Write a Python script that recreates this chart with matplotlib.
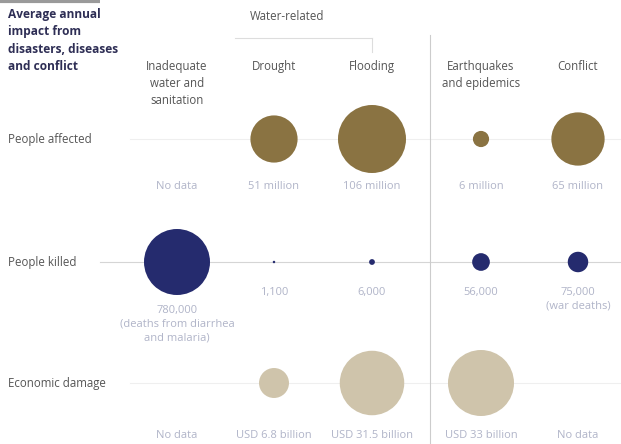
import matplotlib
matplotlib.use('Agg')
import matplotlib.pyplot as plt
from matplotlib.patches import Circle
import numpy as np

plt.rcParams['font.family'] = ['Open Sans', 'DejaVu Sans']

# 数据
columns = ['Inadequate\nwater and\nsanitation', 'Drought', 'Flooding',
           'Earthquakes\nand epidemics', 'Conflict']
rows = ['People affected', 'People killed', 'Economic damage']

affected = [np.nan, 51, 106, 6, 65]  # million
affected_labels = ['No data', '51 million', '106 million', '6 million', '65 million']

killed = [780000, 1100, 6000, 56000, 75000]
killed_labels = ['780,000\n(deaths from diarrhea\nand malaria)', '1,100', '6,000',
                 '56,000', '75,000\n(war deaths)']

damage = [np.nan, 6.8, 31.5, 33, np.nan]  # USD billion
damage_labels = ['No data', 'USD 6.8 billion', 'USD 31.5 billion',
                 'USD 33 billion', 'No data']

series = [affected, killed, damage]
series_labels = [affected_labels, killed_labels, damage_labels]
colors = ['#8a7342', '#252b6e', '#cfc4ab']
max_r = [34, 33, 33]  # 每行最大圆半径(像素)

# 布局(像素坐标)
col_x = [177, 274, 372, 481, 578]
row_y = [139, 262, 383]

fig = plt.figure(figsize=(6.21, 4.44), dpi=100)
ax = fig.add_axes([0, 0, 1, 1])
ax.set_xlim(0, 621)
ax.set_ylim(444, 0)
ax.set_aspect('equal')
ax.axis('off')

# 标题
ax.plot([0, 100], [1, 1], color='#9a9a9a', lw=3, solid_capstyle='butt')
ax.text(8, 8, 'Average annual\nimpact from\ndisasters, diseases\nand conflict',
        fontsize=8.6, fontweight='bold', color='#2e2e55', va='top', linespacing=1.45)

# Water-related 括号
ax.text(287, 16, 'Water-related', fontsize=8.3, color='#555555', ha='center', va='center')
ax.plot([235, 372], [38, 38], color='#dddddd', lw=0.8)
ax.plot([372, 372], [38, 52], color='#dddddd', lw=0.8)

# 分隔线
ax.plot([430, 430], [35, 444], color='#cccccc', lw=0.8)

# 列标题
for x, name in zip(col_x, columns):
    ax.text(x, 60, name, fontsize=8.3, color='#555555', ha='center', va='top',
            linespacing=1.4)

# 行
line_colors = ['#efefef', '#d5d5d5', '#efefef']
for i, (y, name) in enumerate(zip(row_y, rows)):
    ax.text(8, y, name, fontsize=8.3, color='#555555', va='center')
    ax.plot([100 if i == 1 else 130, 621], [y, y], color=line_colors[i], lw=0.8, zorder=1)
    vals = np.array(series[i], dtype=float)
    k = max_r[i] / np.sqrt(np.nanmax(vals))
    for j, (x, v) in enumerate(zip(col_x, vals)):
        r = 0 if np.isnan(v) else k * np.sqrt(v)
        if r > 0:
            ax.add_patch(Circle((x, y), r, color=colors[i], zorder=2, lw=0))
        if i == 1:
            ly = max(y + r + 10, y + 25)
        elif i == 2:
            ly = 430
        else:
            ly = 181
        ax.text(x, ly, series_labels[i][j], fontsize=8, color='#b0b4c8',
                ha='center', va='top', linespacing=1.35)

fig.savefig('out.png', dpi=100)
